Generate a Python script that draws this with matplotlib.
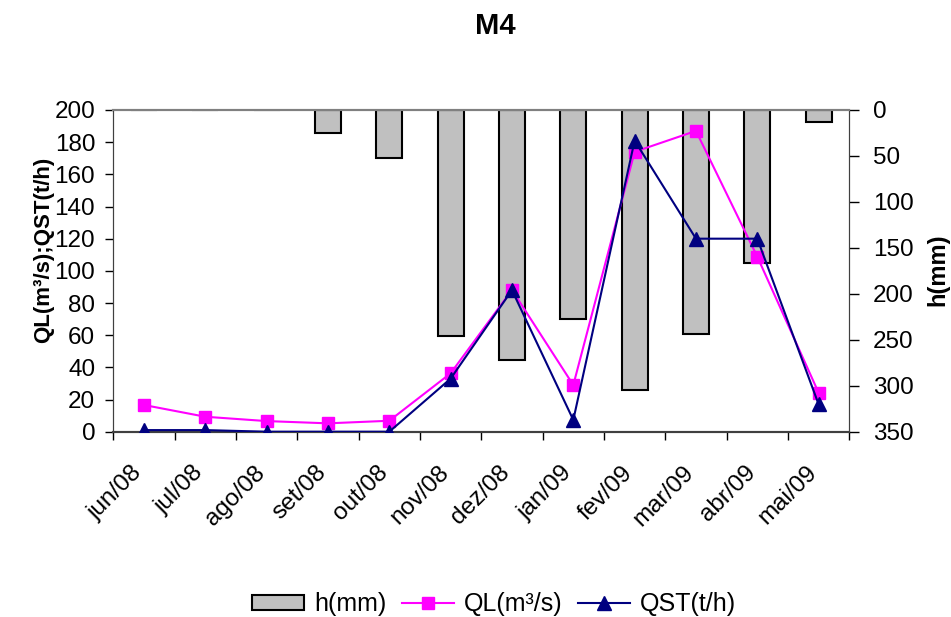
import matplotlib
matplotlib.use("Agg")
import matplotlib.pyplot as plt
from matplotlib.transforms import offset_copy
from matplotlib.patches import Patch
from matplotlib.lines import Line2D

plt.rcParams['font.family'] = ['Liberation Sans', 'DejaVu Sans']

months = ["jun/08", "jul/08", "ago/08", "set/08", "out/08", "nov/08",
          "dez/08", "jan/09", "fev/09", "mar/09", "abr/09", "mai/09"]
h_mm = [0, 0, 0, 25, 52, 246, 272, 227, 305, 244, 167, 13]
ql = [16.6, 9.3, 6.6, 5.2, 6.8, 36.3, 88.1, 29, 174, 187, 108.8, 24.2]
qst = [1, 1, 0, 0, 0, 33, 88, 7.3, 181, 120, 120, 17]

W, H = 951, 617
fig = plt.figure(figsize=(W / 100, H / 100), dpi=100)
ax = fig.add_axes([113.3 / W, 1 - 431.7 / H, (849.3 - 113.3) / W, (431.7 - 110) / H])
ax2 = ax.twinx()

x = list(range(len(months)))

# rainfall bars hanging from the top on the inverted secondary axis
ax2.bar(x, h_mm, width=0.42, color="#C0C0C0", edgecolor="black", linewidth=1.5, zorder=2)
ax2.set_ylim(350, 0)
ax2.set_yticks(range(0, 351, 50))

# discharge lines in front of the bars
ax.set_zorder(ax2.get_zorder() + 1)
ax.patch.set_visible(False)
ax.plot(x, ql, color="#FF00FF", lw=1.5, marker="s", ms=8.5, mec="#FF00FF", mfc="#FF00FF", zorder=3)
ax.plot(x, qst, color="#000080", lw=1.5, marker="^", ms=10, mec="#000080", mfc="#000080", zorder=4)

ax.set_xlim(-0.5, len(months) - 0.5)
ax.set_ylim(0, 200)
ax.set_yticks(range(0, 201, 20))

# category boundaries carry the tick marks, labels sit below each category
ax.set_xticks([i - 0.5 for i in range(len(months) + 1)])
ax.set_xticklabels([])
ax.tick_params(axis="x", length=6, width=1, direction="out", color="black")
ax.tick_params(axis="y", length=6, width=1, direction="out", labelsize=17.5, pad=7)
ax2.tick_params(axis="y", length=7, width=1, direction="out", labelsize=17.5, pad=10)

trans = offset_copy(ax.get_xaxis_transform(), fig=fig, x=-13, y=-30, units="dots")
for i, lab in enumerate(months):
    ax.text(i, 0, lab, transform=trans, rotation=45, rotation_mode="anchor",
            ha="right", va="top", fontsize=17.5)

for a in (ax, ax2):
    a.spines["top"].set_color("#808080")
    a.spines["top"].set_linewidth(1.5)
    a.spines["left"].set_color("#404040")
    a.spines["right"].set_color("#404040")
    a.spines["bottom"].set_color("#404040")
    a.spines["bottom"].set_linewidth(1.5)

fig.text(495.7 / W, 1 - 26 / H, "M4", fontsize=21, fontweight="bold", ha="center", va="center")
fig.text(44 / W, 1 - 250 / H, "QL(m³/s);QST(t/h)", fontsize=16, fontweight="bold",
         rotation=90, ha="center", va="center")
fig.text(938 / W, 1 - 270 / H, "h(mm)", fontsize=17, fontweight="bold",
         rotation=90, ha="center", va="center")

handles = [
    Patch(facecolor="#C0C0C0", edgecolor="black", linewidth=1.5),
    Line2D([], [], color="#FF00FF", lw=1.5, marker="s", ms=8.5),
    Line2D([], [], color="#000080", lw=1.5, marker="^", ms=10),
]
fig.legend(handles, ["h(mm)", "QL(m³/s)", "QST(t/h)"], loc="center",
           bbox_to_anchor=(494 / W, 1 - 604 / H), ncol=3, frameon=False,
           fontsize=18, handlelength=2.1, handleheight=0.55, handletextpad=0.4,
           columnspacing=0.6, borderpad=0)

fig.savefig("out.png", dpi=100)
